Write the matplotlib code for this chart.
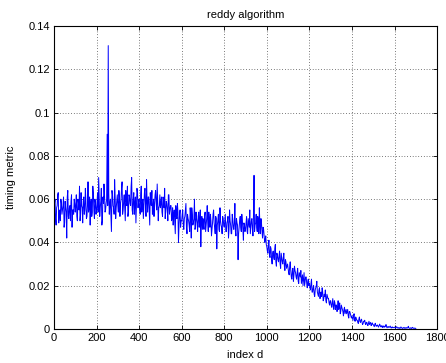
import matplotlib.pyplot as plt

# index d runs 0..1700; samples at every 5 and in between
index_a = [5 * k for k in range(341)]
index_b = [5 * k + 2.5 for k in range(340)]

# timing metric (units of 1e-3) at index_a
timing_a_milli = [
    52, 60, 48, 57, 63, 54, 50, 58, 55, 61, 49, 56, 42, 64, 51, 57, 59, 47, 55, 60,
    54, 62, 50, 58, 66, 53, 57, 49, 61, 55, 59, 52, 68, 56, 48, 60, 54, 63, 51, 58,
    55, 63, 70, 52, 59, 48, 61, 67, 54, 58, 90, 131, 53, 60, 45, 62, 56, 69, 51, 59,
    57, 64, 52, 60, 68, 55, 62, 50, 59, 66, 54, 61, 57, 70, 53, 63, 58, 49, 65, 56,
    60, 53, 66, 58, 51, 63, 57, 69, 54, 61, 48, 59, 64, 56, 52, 62, 58, 67, 50, 57,
    56, 61, 52, 59, 65, 54, 58, 50, 62, 55, 57, 51, 48, 55, 44, 52, 58, 40, 53, 47,
    50, 55, 46, 52, 58, 44, 51, 48, 56, 42, 53, 49, 60, 47, 51, 45, 54, 50, 38, 52,
    51, 46, 54, 48, 57, 45, 50, 53, 43, 49, 55, 47, 52, 37, 50, 46, 56, 48, 44, 51,
    47, 53, 45, 50, 42, 55, 48, 44, 51, 46, 58, 43, 49, 32, 47, 52, 45, 50, 41, 48,
    46, 52, 44, 49, 55, 47, 51, 43, 71, 48, 53, 45, 50, 56, 44, 49, 42, 46, 40, 43,
    38, 35, 41, 33, 37, 30, 36, 32, 39, 29, 34, 31, 36, 28, 33, 30, 35, 27, 31, 29,
    28, 25, 31, 24, 27, 22, 29, 26, 23, 28, 21, 25, 27, 23, 20, 26, 22, 24, 19, 23,
    21, 18, 23, 17, 20, 15, 19, 22, 16, 18, 14, 17, 19, 13, 16, 18, 12, 15, 14, 11,
    13, 10, 14, 9, 12, 11, 8, 13, 10, 7, 11, 9, 6, 10, 8, 7, 9, 5, 8, 6,
    6, 4, 7, 3.5, 5, 4, 2.5, 5.5, 3, 4.5, 2, 3.5, 4, 2, 3, 1.5, 3.5, 2.5, 1.5, 2.8,
    2, 1, 2.6, 1.2, 1.8, 0.8, 2.2, 1, 1.5, 0.6, 1.4, 0.9, 2, 0.5, 1.1, 0.7, 1.3, 0.4, 0.9, 0.6,
    0.8, 0.3, 1, 0.4, 0.6, 0.2, 0.9, 0.3, 0.5, 0.7, 0.2, 0.6, 0.4, 1.2, 0.3, 0.5, 0.2, 0.7, 0.3, 0.4, 0.1,
]

# timing metric (units of 1e-3) at index_b
timing_b_milli = [
    58, 51, 56, 62, 49, 55, 60, 53, 57, 47, 59, 54, 61, 52, 56, 50, 62, 55, 53, 58,
    57, 52, 60, 55, 50, 63, 56, 59, 53, 65, 51, 57, 54, 61, 58, 52, 66, 55, 60, 53,
    59, 54, 61, 56, 65, 50, 58, 62, 55, 60, 57, 63, 58, 52, 64, 57, 53, 61, 56, 62,
    54, 61, 58, 65, 53, 59, 56, 64, 57, 52, 62, 58, 66, 55, 60, 53, 61, 57, 63, 59,
    56, 62, 54, 60, 57, 65, 52, 59, 61, 55, 63, 57, 53, 60, 58, 64, 55, 59, 56, 62,
    58, 54, 61, 56, 51, 59, 55, 62, 53, 57, 50, 56, 53, 49, 57, 51, 54, 48, 55, 50,
    53, 48, 51, 55, 47, 53, 50, 45, 52, 56, 48, 51, 46, 54, 49, 52, 47, 55, 50, 46,
    48, 52, 45, 51, 49, 54, 47, 50, 46, 53, 49, 44, 51, 48, 53, 45, 50, 47, 52, 48,
    50, 45, 49, 52, 46, 50, 44, 53, 47, 49, 45, 51, 48, 44, 50, 47, 53, 46, 49, 45,
    49, 45, 51, 47, 44, 50, 46, 53, 45, 49, 47, 52, 44, 48, 51, 45, 47, 43, 41, 39,
    36, 39, 34, 38, 32, 35, 33, 37, 31, 35, 32, 34, 30, 35, 31, 33, 29, 32, 28, 30,
    26, 29, 27, 23, 28, 25, 27, 24, 26, 22, 26, 24, 21, 25, 23, 20, 24, 21, 22, 20,
    19, 21, 17, 19, 16, 18, 20, 17, 15, 19, 16, 15, 17, 14, 15, 13, 16, 14, 12, 13,
    11, 12, 10, 13, 9, 11, 10, 9, 12, 8, 10, 8, 9, 7, 9, 8, 6, 8, 7, 5,
    5, 6, 4, 5.5, 4, 3, 4.5, 3.5, 4, 3, 2.5, 3.5, 2.5, 3, 2, 2.5, 2, 3, 1.8, 2.2,
    1.5, 2.2, 1.4, 1.6, 1.2, 1.5, 1.7, 0.9, 1.3, 1.1, 0.8, 1.2, 1, 0.9, 0.7, 1, 0.6, 0.8, 0.5, 0.7,
    0.5, 0.6, 0.7, 0.3, 0.5, 0.4, 0.6, 0.2, 0.4, 0.3, 0.5, 0.3, 0.6, 0.4, 0.2, 0.4, 0.5, 0.3, 0.2, 0.3,
]

x_ticks = list(range(0, 2000, 200))
y_ticks = [0, 0.02, 0.04, 0.06, 0.08, 0.1, 0.12, 0.14]
y_labels = ['0', '0.02', '0.04', '0.06', '0.08', '0.1', '0.12', '0.14']

# merge the two sample sets in index order
pairs = sorted(zip(index_a + index_b, timing_a_milli + timing_b_milli))
index_d = [p[0] for p in pairs]
timing = [p[1] / 1000 for p in pairs]

plt.rcParams['font.family'] = ['Liberation Sans', 'DejaVu Sans']
plt.rcParams['font.size'] = 8

fig = plt.figure(figsize=(4.46, 3.63), dpi=100)
ax = fig.add_axes([0.121, 0.094, 0.859, 0.834])
ax.plot(index_d, timing, color='#0000ff', linewidth=0.7)

ax.set_xlim(0, 1800)
ax.set_ylim(0, 0.14)
ax.set_xticks(x_ticks)
ax.set_yticks(y_ticks)
ax.set_yticklabels(y_labels)
ax.tick_params(direction='in', length=3, width=0.6, pad=3, top=True, right=True)
ax.grid(True, color='black', linestyle=(0, (1, 3)), linewidth=0.5)
for s in ax.spines.values():
    s.set_linewidth(0.8)

ax.set_title('reddy algorithm', fontsize=8, pad=6)
ax.set_xlabel('index d', labelpad=5)
ax.set_ylabel('timing metric', labelpad=9)

fig.savefig('out.png', dpi=100)
